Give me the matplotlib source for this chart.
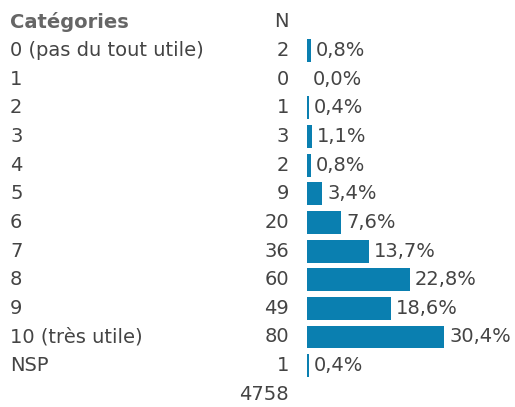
import matplotlib.pyplot as plt
from matplotlib.transforms import blended_transform_factory

categories = ["0 (pas du tout utile)", "1", "2", "3", "4", "5", "6", "7", "8", "9",
              "10 (très utile)", "NSP"]
counts = [2, 0, 1, 3, 2, 9, 20, 36, 60, 49, 80, 1]
percents = [0.8, 0.0, 0.4, 1.1, 0.8, 3.4, 7.6, 13.7, 22.8, 18.6, 30.4, 0.4]
total_label = "4758"

text_color = "#444444"
bar_color = "#0a7fb0"
W, H = 515, 407

fig = plt.figure(figsize=(W / 100, H / 100), dpi=100)
# axes: x=0 at pixel 307, 4.5 px per percent; rows every 28.65 px, first at 50.5
x0 = 307
ax = fig.add_axes([x0 / W, 0, 1 - x0 / W, 1])
ax.set_xlim(0, (W - x0) / 4.5)
row0, step = 50.5, 28.65
ax.set_ylim((H - row0) / step, -row0 / step)
ax.axis("off")

rows = list(range(len(categories)))
ax.barh(rows, percents, height=0.8, color=bar_color)

fs = 14
trans = blended_transform_factory(fig.transFigure, ax.transData)

ax.text(10 / W, -1, "Catégories", transform=trans, fontsize=fs, fontweight="bold",
        color="#666666", va="center", ha="left")
ax.text(289 / W, -1, "N", transform=trans, fontsize=fs, color=text_color,
        va="center", ha="right")

for i, (cat, n, p) in enumerate(zip(categories, counts, percents)):
    ax.text(10 / W, i, cat, transform=trans, fontsize=fs, color=text_color,
            va="center", ha="left")
    ax.text(289 / W, i, str(n), transform=trans, fontsize=fs, color=text_color,
            va="center", ha="right")
    ax.text(p + 1.2, i, f"{p:.1f}%".replace(".", ","), fontsize=fs, color=text_color,
            va="center", ha="left", clip_on=False)

ax.text(289 / W, len(categories), total_label, transform=trans, fontsize=fs,
        color=text_color, va="center", ha="right")

fig.savefig("out.png", dpi=100)
